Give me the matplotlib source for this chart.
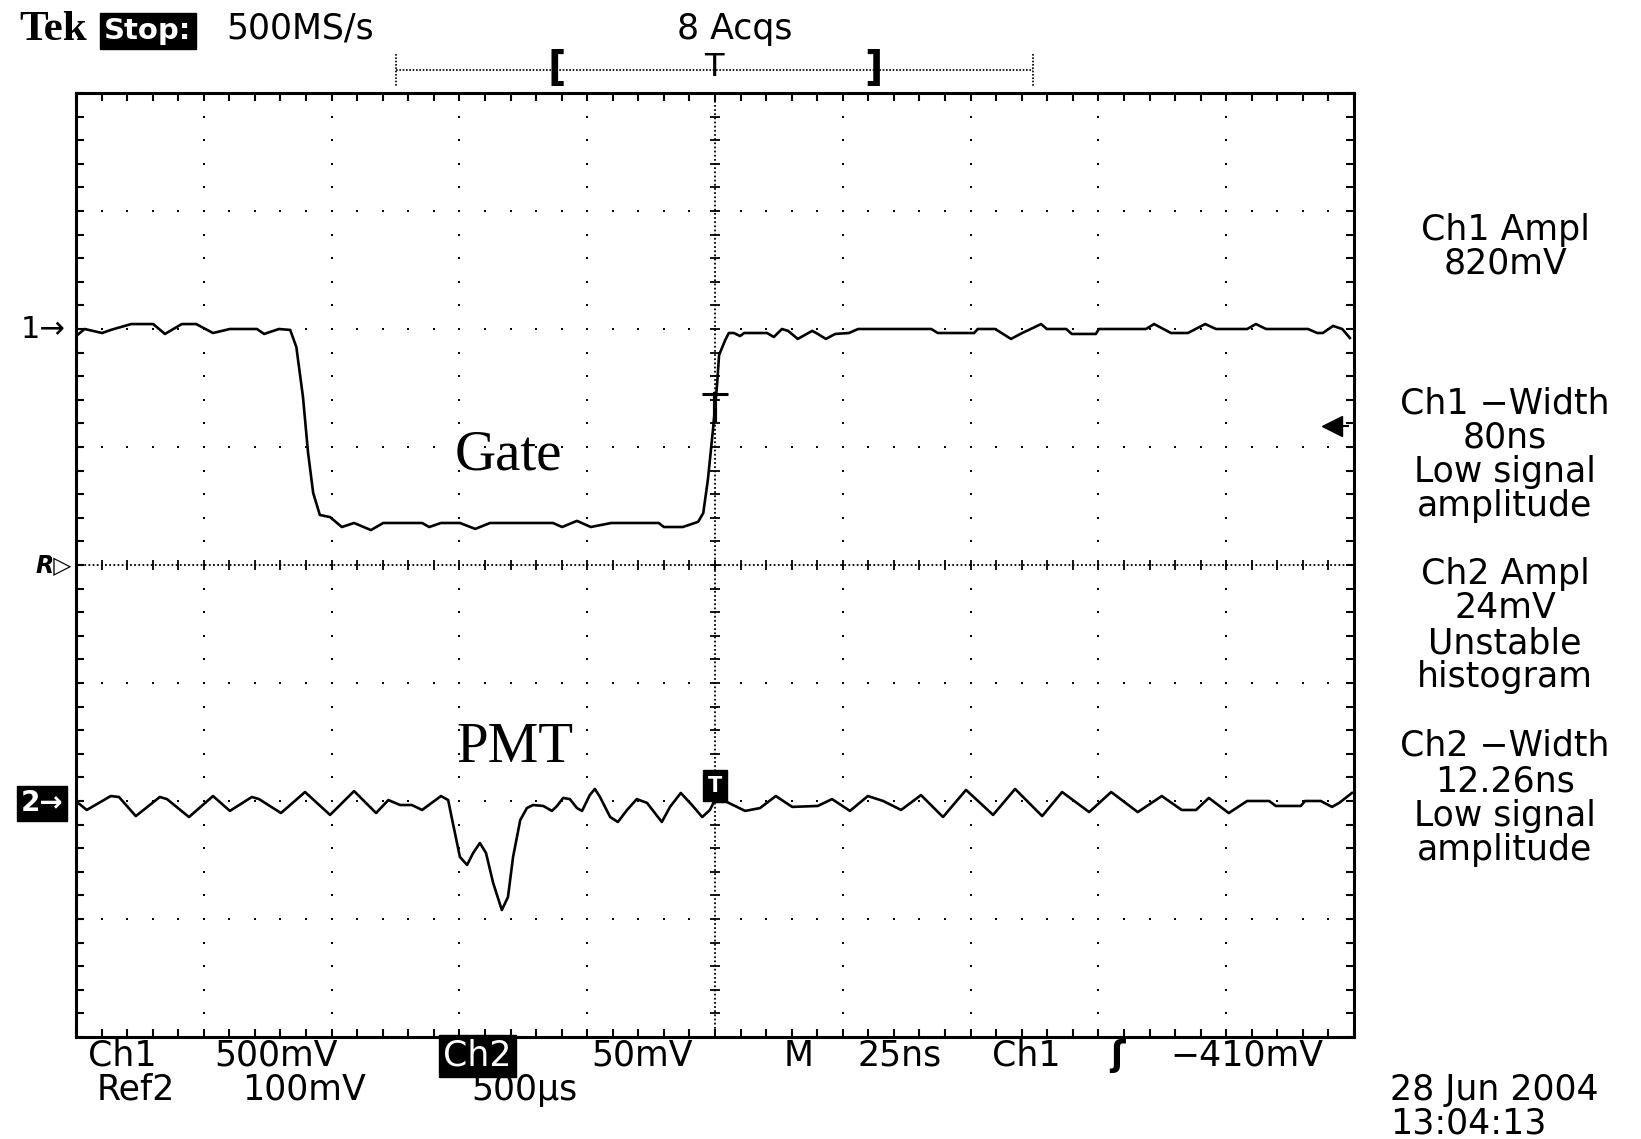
import numpy as np
import matplotlib.pyplot as plt
from matplotlib.lines import Line2D

# scope settings
time_div = 25       # ns/div
ch1_scale = 500     # mV/div
ch2_scale = 50      # mV/div
ch1_pos = 2.0       # div
ch2_pos = -2.0      # div
trig_level = -410   # mV on Ch1
trig_mark = -275    # mV, Ch1 T marker

# Ch1 (gate)
ch1_t = [-124.7, -123.3, -119.9, -118.2, -114.2, -109.9, -107.6, -104.3, -101.5, -98.2,
         -94.9, -89.6, -88.2, -85.3, -83.1, -81.9, -80.6, -79.6, -78.6, -77.3,
         -75.3, -73.0, -70.6, -67.3, -64.9, -57.3, -55.9, -53.6, -49.9, -46.9,
         -44.0, -31.7, -29.9, -27.0, -24.3, -20.3, -11.0, -10.0, -6.3, -3.3,
         -2.3, -1.4, -0.4, 0.4, 0.8, 2.0, 2.7, 3.7, 4.9, 5.7,
         10.2, 11.5, 13.1, 14.3, 16.2, 19.0, 19.8, 21.7, 23.5, 26.2,
         28.0, 42.3, 43.6, 50.7, 51.4, 54.8, 57.9, 60.1, 63.8, 64.9,
         68.7, 69.8, 74.5, 75.1, 84.3, 85.9, 89.2, 92.5, 95.9, 98.0,
         104.1, 105.8, 107.8, 116.0, 117.8, 118.9, 120.9, 122.7, 124.2]
ch1_mv = [-25, 0, -17, -4, 21, 21, -21, 21, 21, -17,
          0, 0, -21, 0, -4, -76, -288, -525, -695, -788,
          -797, -839, -822, -852, -822, -822, -839, -822, -822, -847,
          -822, -822, -839, -813, -839, -822, -822, -839, -839, -817,
          -780, -640, -428, -237, -110, -47, -17, -17, -30, -17,
          -17, -34, 0, -8, -42, -8, -17, -42, -21, -17,
          0, 0, -17, -17, 0, 0, -42, -17, 21, 0,
          0, -21, -21, 0, 0, 21, -17, -17, 21, 0,
          0, 21, 0, 0, -17, -17, 13, 0, -38]

# Ch2 (PMT)
ch2_t = [-124.6, -122.9, -118.2, -116.6, -113.3, -108.6, -107.2, -102.9, -98.2, -94.9,
         -90.6, -89.2, -84.9, -80.2, -75.3, -70.6, -66.3, -63.9, -61.6, -59.3,
         -57.3, -53.6, -52.2, -51.4, -49.9, -48.5, -47.3, -46.0, -44.8, -43.4,
         -41.7, -40.5, -39.5, -38.1, -36.8, -35.6, -33.6, -31.9, -30.9, -29.7,
         -28.4, -27.0, -26.0, -24.5, -23.5, -22.5, -20.5, -19.0, -17.2, -15.3,
         -13.3, -10.4, -8.8, -6.7, -4.5, -2.5, -1.0, -0.2, 2.3, 5.9,
         8.8, 11.9, 15.1, 20.1, 22.9, 26.4, 29.9, 32.9, 36.4, 40.3,
         44.6, 49.1, 54.4, 58.7, 64.0, 67.9, 73.2, 77.5, 82.7, 87.4,
         91.3, 94.1, 96.6, 100.5, 104.1, 108.4, 109.7, 114.6, 115.4, 118.5,
         120.7, 122.1, 124.6]
ch2_mv = [-0.8, -3.8, 2.1, 1.7, -6.4, 1.7, 0.8, -6.8, 2.1, -4.2,
          1.7, 0.8, -5.1, 3.8, -5.9, 4.2, -5.1, 0.4, -1.7, -1.7,
          -3.8, 2.1, 0.4, -8.1, -23.7, -27.1, -22.0, -17.8, -22.0, -34.7,
          -46.2, -40.7, -23.7, -8.1, -3.0, -1.7, -2.1, -4.2, -2.1, 1.3,
          0.8, -3.0, -4.2, 2.5, 5.1, 1.7, -6.8, -8.9, -3.8, 0.8,
          -0.8, -8.9, -2.5, 3.4, -1.7, -6.8, -3.8, -0.4, -0.4, -4.2,
          -3.0, 2.1, -2.5, -2.1, 0.8, -4.2, 2.1, 0.0, -3.8, 2.5,
          -6.8, 4.7, -5.9, 5.1, -6.4, 3.8, -4.7, 3.8, -4.7, 2.1,
          -3.8, -3.8, 1.3, -5.1, 0.0, 0.0, -2.1, -2.1, 0.0, 0.0,
          -2.5, -0.8, 3.4]

meas_text = ['Ch1 Ampl', '820mV',
             'Ch1 \u2212Width', '80ns', 'Low signal', 'amplitude',
             'Ch2 Ampl', '24mV', 'Unstable', 'histogram',
             'Ch2 \u2212Width', '12.26ns', 'Low signal', 'amplitude']
meas_y = [228, 262, 401, 436, 470, 504, 572, 606, 641, 675, 744, 779, 814, 848]

FS = 25
SANS = 'DejaVu Sans'

fig = plt.figure(figsize=(16.41, 11.39), dpi=100)
W, H = 1641, 1139
ax = fig.add_axes([76 / W, 1 - 1037 / H, (1354 - 76) / W, (1037 - 93) / H])
ax.set_xlim(-5 * time_div, 5 * time_div)
ax.set_ylim(-4, 4)

# graticule
major_t = np.arange(-5, 6) * time_div
minor_t = np.arange(-25, 26) * time_div / 5
major_d = np.arange(-4, 5)
minor_d = np.arange(-20, 21) / 5
for t in major_t[1:-1]:
    if t != 0:
        ax.plot(np.full(len(minor_d), t), minor_d, ls='none', marker='s', ms=1.8, color='k', mew=0)
for d in major_d[1:-1]:
    if d != 0:
        ax.plot(minor_t, np.full(len(minor_t), d), ls='none', marker='s', ms=1.8, color='k', mew=0)
ax.axhline(0, color='k', lw=1.3, ls=(0, (1, 1.3)))
ax.axvline(0, color='k', lw=1.3, ls=(0, (1, 1.3)))
ax.plot(minor_t, np.zeros(len(minor_t)), ls='none', marker='|', ms=7, mew=1.3, color='k')
ax.plot(np.zeros(len(minor_d)), minor_d, ls='none', marker='_', ms=7, mew=1.3, color='k')

ax.set_xticks(minor_t)
ax.set_yticks(minor_d)
ax.tick_params(direction='in', length=6, width=1.5, top=True, right=True,
               labelbottom=False, labelleft=False)
for s in ax.spines.values():
    s.set_linewidth(2.2)

# traces
ax.plot(ch1_t, np.array(ch1_mv) / ch1_scale + ch1_pos, color='k', lw=1.9)
ax.plot(ch2_t, np.array(ch2_mv) / ch2_scale + ch2_pos, color='k', lw=1.9)

# markers
ax.plot([0], [trig_mark / ch1_scale + ch1_pos], marker='_', ms=19, mew=2.2, color='k')
ax.plot([0, 0], [trig_mark / ch1_scale + ch1_pos, trig_mark / ch1_scale + ch1_pos - 0.22], color='k', lw=3)
ax.text(0, ch2_pos + 0.13, 'T', color='white', fontsize=15, fontweight='bold', family=SANS,
        ha='center', va='center', bbox=dict(boxstyle='square,pad=0.25', fc='black', ec='black'))
yt = ax.get_yaxis_transform()
ax.plot([0.983], [trig_level / ch1_scale + ch1_pos], marker='<', ms=15, color='k', transform=yt, clip_on=False)
ax.plot([0.983, 0.995], [trig_level / ch1_scale + ch1_pos] * 2, color='k', lw=1.5, transform=yt)
ax.text(-0.008, ch1_pos, '1\u2192', transform=yt, ha='right', va='center', fontsize=22, family=SANS)
ax.text(-0.010, ch2_pos - 0.02, '2\u2192', transform=yt, ha='right', va='center', fontsize=20, family=SANS,
        color='white', fontweight='bold', bbox=dict(boxstyle='square,pad=0.12', fc='black', ec='black'))
ax.text(-0.003, 0, 'R\u25b7', transform=yt, ha='right', va='center', fontsize=17, family=SANS,
        fontweight='bold', fontstyle='italic')

ax.text(-40.5, 0.93, 'Gate', fontsize=41, family='Liberation Serif', ha='center', va='center')
ax.text(-39.1, -1.55, 'PMT', fontsize=41, family='Liberation Serif', ha='center', va='center')

# overlay in pixel coordinates for the scope text
ov = fig.add_axes([0, 0, 1, 1])
ov.set_xlim(0, W)
ov.set_ylim(H, 0)
ov.axis('off')
ov.patch.set_alpha(0)

ov.text(19, 40, 'Tek', fontsize=31, family='Liberation Serif', fontweight='bold', va='baseline')
ov.text(104, 39, 'Stop:', fontsize=21, family=SANS, fontweight='bold', color='white', va='baseline',
        bbox=dict(boxstyle='square,pad=0.15', fc='black', ec='black'))
ov.text(226, 39, '500MS/s', fontsize=FS, family=SANS, va='baseline')
ov.text(735, 39, '8 Acqs', fontsize=FS, family=SANS, va='baseline', ha='center')

dots = (0, (1, 1))
ov.add_line(Line2D([396, 1033], [70, 70], color='k', lw=1.2, ls=dots))
ov.add_line(Line2D([396, 396], [54, 86], color='k', lw=1.2, ls=dots))
ov.add_line(Line2D([1033, 1033], [54, 86], color='k', lw=1.2, ls=dots))
ov.text(557, 69, '[', fontsize=29, family=SANS, fontweight='bold', ha='center', va='center')
ov.text(873, 69, ']', fontsize=29, family=SANS, fontweight='bold', ha='center', va='center')
ov.text(714, 67, 'T', fontsize=23, family=SANS, ha='center', va='center')

for s, y in zip(meas_text, meas_y):
    ov.text(1505, y + 12, s, fontsize=FS, family=SANS, ha='center', va='baseline')

row1 = 1066
row2 = 1100
ov.text(88, row1, 'Ch1', fontsize=FS, family=SANS, va='baseline')
ov.text(214, row1, '500mV', fontsize=FS, family=SANS, va='baseline')
ov.text(443, row1, 'Ch2', fontsize=FS, family=SANS, va='baseline', color='white',
        bbox=dict(boxstyle='square,pad=0.12', fc='black', ec='black'))
ov.text(591, row1, '50mV', fontsize=FS, family=SANS, va='baseline')
ov.text(784, row1, 'M', fontsize=FS, family=SANS, va='baseline')
ov.text(857, row1, '25ns', fontsize=FS, family=SANS, va='baseline')
ov.text(992, row1, 'Ch1', fontsize=FS, family=SANS, va='baseline')
ov.text(1110, row1, '\u0283', fontsize=FS, family=SANS, va='baseline', fontweight='bold')
ov.text(1170, row1, '\u2212410mV', fontsize=FS, family=SANS, va='baseline')
ov.text(97, row2, 'Ref2', fontsize=FS, family=SANS, va='baseline')
ov.text(242, row2, '100mV', fontsize=FS, family=SANS, va='baseline')
ov.text(471, row2, '500\u00b5s', fontsize=FS, family=SANS, va='baseline')
ov.text(1390, row2, '28 Jun 2004', fontsize=FS, family=SANS, va='baseline')
ov.text(1390, row2 + 34, '13:04:13', fontsize=FS, family=SANS, va='baseline')

fig.savefig('out.png', dpi=100, facecolor='white')
